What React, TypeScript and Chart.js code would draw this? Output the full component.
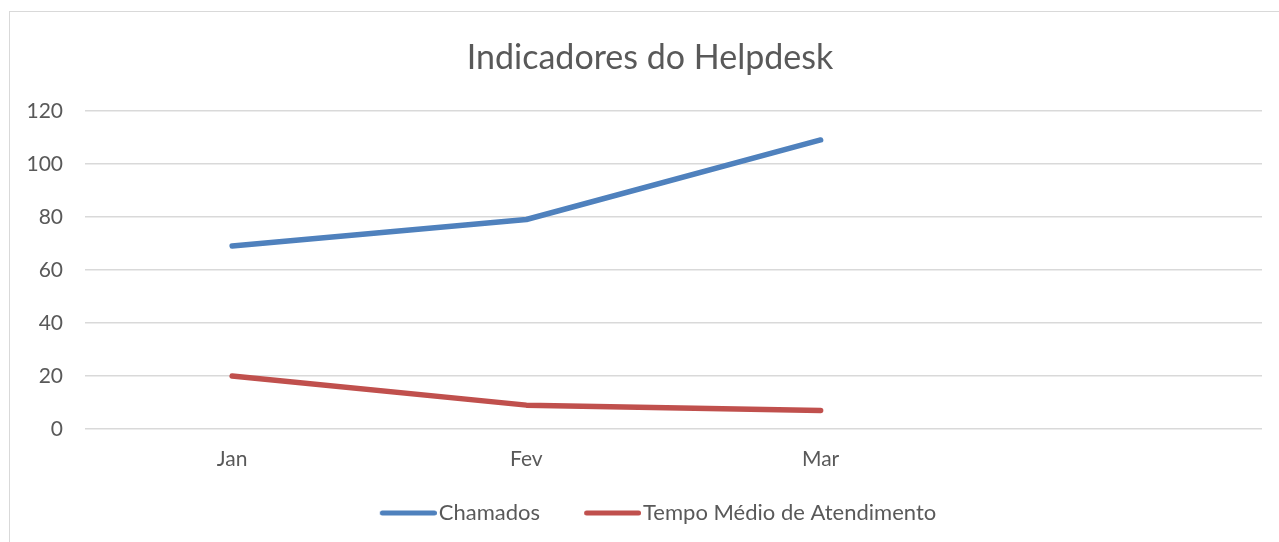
import React, { useEffect, useRef } from "react";
import { Chart, registerables } from "chart.js";

Chart.register(...registerables);

const categories = ["Jan", "Fev", "Mar", ""];
const chamados = [69, 79, 109, null];
const tempoMedio = [20, 9, 7, null];
const yTicks = [0, 20, 40, 60, 80, 100, 120];

const FONT = "Lato, 'Open Sans', sans-serif";
const TEXT = "#595959";
const BLUE = "#4f81bd";
const RED = "#c0504d";

// legend sample: a rounded line drawn into a small canvas used as point style
function legendLine(color: string): HTMLCanvasElement {
  const c = document.createElement("canvas");
  c.width = 82;
  c.height = 8;
  const ctx = c.getContext("2d")!;
  ctx.strokeStyle = color;
  ctx.lineWidth = 5;
  ctx.lineCap = "round";
  ctx.beginPath();
  ctx.moveTo(27.5, 4);
  ctx.lineTo(79.5, 4);
  ctx.stroke();
  return c;
}

export default function App() {
  const ref = useRef<HTMLCanvasElement | null>(null);

  useEffect(() => {
    if (!ref.current) return;
    const chart = new Chart(ref.current, {
      type: "line",
      data: {
        labels: categories,
        datasets: [
          {
            label: "Chamados",
            data: chamados,
            borderColor: BLUE,
            backgroundColor: BLUE,
            borderWidth: 5.5,
            borderCapStyle: "round",
            borderJoinStyle: "round",
            pointRadius: 0,
            pointStyle: legendLine(BLUE),
            tension: 0,
          },
          {
            label: "Tempo Médio de Atendimento",
            data: tempoMedio,
            borderColor: RED,
            backgroundColor: RED,
            borderWidth: 5.5,
            borderCapStyle: "round",
            borderJoinStyle: "round",
            pointRadius: 0,
            pointStyle: legendLine(RED),
            tension: 0,
          },
        ],
      },
      options: {
        animation: false,
        responsive: false,
        maintainAspectRatio: false,
        layout: { padding: { left: 21, right: 0, top: 38, bottom: 8 } },
        plugins: {
          title: {
            display: true,
            text: "Indicadores do Helpdesk",
            color: TEXT,
            font: { family: FONT, size: 34, weight: "normal" },
            padding: { top: 0, bottom: 32 },
          },
          legend: {
            position: "bottom",
            maxHeight: 60,
            labels: {
              color: TEXT,
              font: { family: FONT, size: 22 },
              usePointStyle: true,
              pointStyleWidth: 64,
              boxHeight: 22,
              padding: 28,
            },
          },
          tooltip: { enabled: false },
        },
        scales: {
          x: {
            offset: true,
            grid: { display: false, drawTicks: false },
            border: { display: false },
            ticks: {
              color: TEXT,
              font: { family: FONT, size: 21 },
              padding: 18,
              maxRotation: 0,
            },
            afterFit: (s: any) => {
              s.height = 45;
            },
          },
          y: {
            min: 0,
            max: 120,
            afterBuildTicks: (s: any) => {
              s.ticks = yTicks.map((v) => ({ value: v }));
            },
            grid: { color: "#d9d9d9", lineWidth: 1.5, drawTicks: false },
            border: { display: false },
            ticks: {
              color: TEXT,
              font: { family: FONT, size: 21 },
              padding: 22,
            },
            afterFit: (s: any) => {
              s.width = 64;
            },
          },
          yRight: {
            position: "right",
            grid: { display: false, drawTicks: false },
            border: { display: false },
            ticks: { display: false },
            afterFit: (s: any) => {
              s.width = 17;
            },
          },
        },
      },
    });
    return () => chart.destroy();
  }, []);

  return (
    <div
      style={{
        position: "fixed",
        left: 0,
        top: 0,
        width: 1279,
        height: 542,
        background: "#fff",
        overflow: "hidden",
      }}
    >
      <div
        style={{
          position: "absolute",
          left: 9,
          top: 11,
          width: 1290,
          height: 560,
          border: "1.5px solid #d9d9d9",
          boxSizing: "border-box",
        }}
      />
      <canvas
        ref={ref}
        width={1279}
        height={542}
        style={{ position: "absolute", left: 0, top: 0, width: 1279, height: 542 }}
      />
    </div>
  );
}
